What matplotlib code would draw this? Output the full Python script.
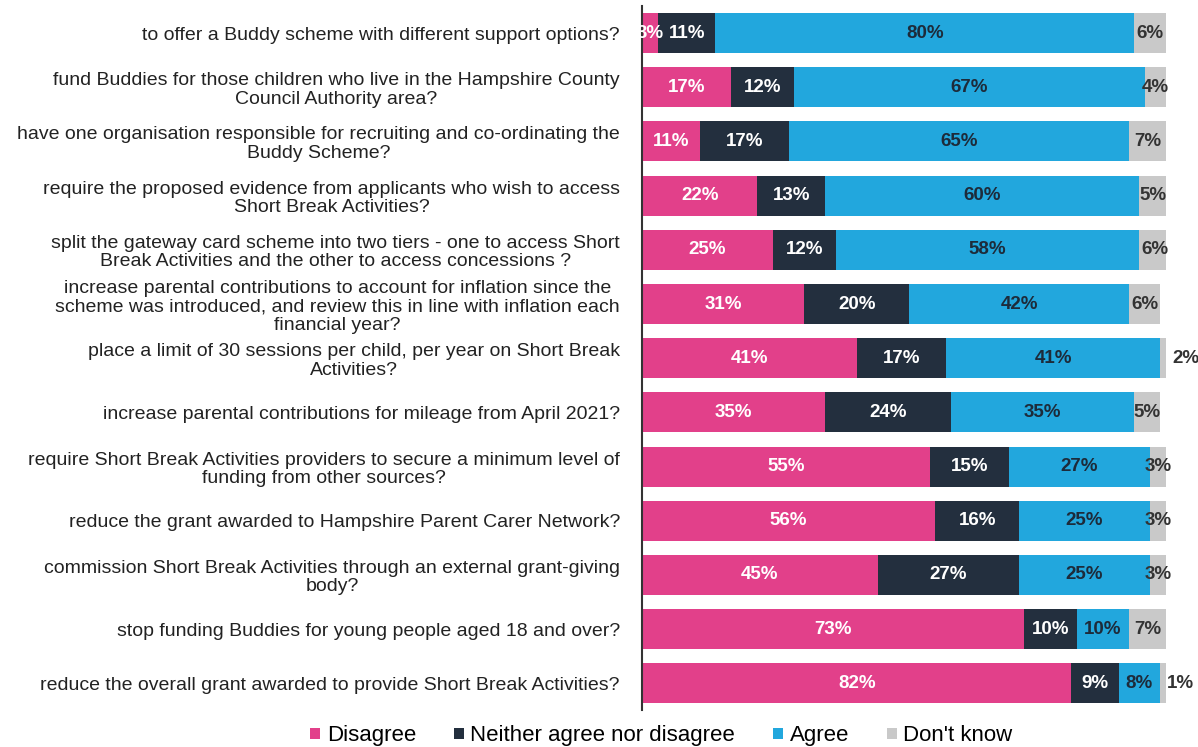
import matplotlib.pyplot as plt
import numpy as np

plt.rcParams['font.family'] = ['Liberation Sans', 'DejaVu Sans']

questions = [
    "to offer a Buddy scheme with different support options?",
    "fund Buddies for those children who live in the Hampshire County\nCouncil Authority area?",
    "have one organisation responsible for recruiting and co-ordinating the\nBuddy Scheme?",
    "require the proposed evidence from applicants who wish to access\nShort Break Activities?",
    "split the gateway card scheme into two tiers - one to access Short\nBreak Activities and the other to access concessions ?",
    "increase parental contributions to account for inflation since the\nscheme was introduced, and review this in line with inflation each\nfinancial year?",
    "place a limit of 30 sessions per child, per year on Short Break\nActivities?",
    "increase parental contributions for mileage from April 2021?",
    "require Short Break Activities providers to secure a minimum level of\nfunding from other sources?",
    "reduce the grant awarded to Hampshire Parent Carer Network?",
    "commission Short Break Activities through an external grant-giving\nbody?",
    "stop funding Buddies for young people aged 18 and over?",
    "reduce the overall grant awarded to provide Short Break Activities?",
]

disagree = [3, 17, 11, 22, 25, 31, 41, 35, 55, 56, 45, 73, 82]
neither = [11, 12, 17, 13, 12, 20, 17, 24, 15, 16, 27, 10, 9]
agree = [80, 67, 65, 60, 58, 42, 41, 35, 27, 25, 25, 10, 8]
dont_know = [6, 4, 7, 5, 6, 6, 2, 5, 3, 3, 3, 7, 1]

series = [
    ("Disagree", disagree, "#e2408a", "white"),
    ("Neither agree nor disagree", neither, "#232f3e", "white"),
    ("Agree", agree, "#22a7dd", "#1d2b3a"),
    ("Don't know", dont_know, "#c9c9c9", "#333333"),
]

fig = plt.figure(figsize=(11.98, 7.47), dpi=100)
ax = fig.add_axes([0.536, 0.049, 0.437, 0.943])

y = np.arange(len(questions))
left = np.zeros(len(questions))
for name, vals, color, tcolor in series:
    vals = np.array(vals, dtype=float)
    ax.barh(y, vals, left=left, height=0.74, color=color, label=name)
    for i, v in enumerate(vals):
        if v <= 2:
            ax.text(left[i] + v + 0.3, y[i], f"{int(v)}%", ha="left", va="center",
                    fontsize=13.5, fontweight="bold", color=tcolor, clip_on=False)
        else:
            ax.text(left[i] + v / 2, y[i], f"{int(v)}%", ha="center", va="center",
                    fontsize=13.5, fontweight="bold", color=tcolor, clip_on=False)
    left += vals

ax.set_xlim(0, 100)
ax.set_ylim(12.5, -0.5)
ax.set_yticks(y)
ax.set_yticklabels(questions, fontsize=14, color="#222222", linespacing=1.12)
for lbl in ax.get_yticklabels():
    lbl.set_multialignment("center")
ax.tick_params(axis="y", length=0, pad=16)
ax.set_xticks([])
for s in ["top", "right", "bottom"]:
    ax.spines[s].set_visible(False)
ax.spines["left"].set_color("#333333")
ax.spines["left"].set_linewidth(1.5)

fig.legend(loc="lower center", bbox_to_anchor=(0.552, -0.026), ncol=4, frameon=False,
           fontsize=16, handlelength=0.45, handleheight=0.45, handletextpad=0.3,
           columnspacing=1.7)

fig.savefig("out.png")
